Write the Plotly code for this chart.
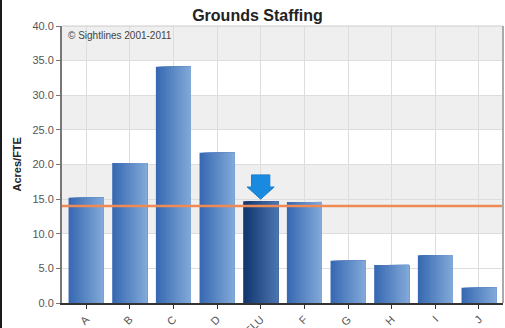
import plotly.graph_objects as go

# Grounds staffing, acres per FTE, by institution
categories = ["A", "B", "C", "D", "ELU", "F", "G", "H", "I", "J"]
acres_per_fte = [15.2, 20.2, 34.1, 21.7, 14.7, 14.6, 6.1, 5.5, 6.9, 2.2]
peer_average = 14.0
highlight = "ELU"
y_ticks = [0, 5, 10, 15, 20, 25, 30, 35, 40]
shaded_bands = [(10, 20), (25, 30), (35, 40)]

W, H = 505, 328
ML, MR, MT, MB = 62, 2, 26, 25
PW, PH = W - ML - MR, H - MT - MB


def lerp(c1, c2, t):
    return "#%02x%02x%02x" % tuple(round(a + (b - a) * t) for a, b in zip(c1, c2))


base_left, base_right = (0x38, 0x69, 0xb2), (0x80, 0xa8, 0xd8)
hi_left, hi_right = (0x12, 0x36, 0x6e), (0x4a, 0x74, 0xb0)

fig = go.Figure()

# horizontal colour gradient across each bar: each layer starts a little further
# right and runs to the bar's right edge, so later layers cover earlier ones
n_slices = 16
bar_w = 0.8
step = bar_w / n_slices
for k in range(n_slices):
    t = k / (n_slices - 1)
    colors = [lerp(hi_left, hi_right, t) if c == highlight else lerp(base_left, base_right, t)
              for c in categories]
    fig.add_trace(go.Bar(
        x=categories, y=acres_per_fte,
        width=bar_w - k * step,
        offset=-bar_w / 2 + k * step,
        marker=dict(color=colors, line=dict(width=0)),
        showlegend=False, hoverinfo="skip",
    ))

# alternating background bands
for y0, y1 in shaded_bands:
    fig.add_shape(type="rect", xref="paper", yref="y", x0=0, x1=1, y0=y0, y1=y1,
                  fillcolor="#efefef", line=dict(width=0), layer="below")

# peer average line
fig.add_shape(type="line", xref="paper", yref="y", x0=0, x1=1,
              y0=peer_average, y1=peer_average,
              line=dict(color="#ef8a55", width=2.5), layer="above")

# arrow marking the highlighted institution
hi_idx = categories.index(highlight)
hi_val = acres_per_fte[hi_idx]
tip = hi_val + 0.3
head = tip + 1.75
top = head + 1.75
sw, hw = 0.21, 0.31
arrow_path = (f"M {hi_idx - sw} {top} L {hi_idx + sw} {top} L {hi_idx + sw} {head} "
              f"L {hi_idx + hw} {head} L {hi_idx} {tip} L {hi_idx - hw} {head} "
              f"L {hi_idx - sw} {head} Z")
fig.add_shape(type="path", xref="x", yref="y", path=arrow_path,
              fillcolor="#1a8ae0", line=dict(color="#1a7fd0", width=1), layer="above")

# plot frame: top and right edges
fig.add_shape(type="line", xref="paper", yref="paper", x0=0, x1=1, y0=1, y1=1,
              line=dict(color="#cccccc", width=1))
fig.add_shape(type="line", xref="paper", yref="paper", x0=1, x1=1, y0=0, y1=1,
              line=dict(color="#aaaaaa", width=2))
# dark page edge on the left
fig.add_shape(type="line", xref="paper", yref="paper",
              x0=(1 - ML) / PW, x1=(1 - ML) / PW, y0=-MB / PH, y1=(PH + MT) / PH,
              line=dict(color="#1a1a1a", width=2))

font_family = "Arial, Liberation Sans, sans-serif"

fig.add_annotation(text="© Sightlines 2001-2011", xref="paper", yref="paper",
                   x=4 / PW, y=(PH - 10) / PH, xanchor="left", yanchor="middle",
                   showarrow=False, font=dict(size=10, color="#444444", family=font_family))
fig.add_annotation(text="Acres/FTE", xref="paper", yref="paper",
                   x=(16 - ML) / PW, y=0.5, textangle=-90, xanchor="center", yanchor="middle",
                   showarrow=False, font=dict(size=11, color="#222222", family=font_family,
                                              weight="bold"))

fig.update_layout(
    width=W, height=H,
    margin=dict(l=ML, r=MR, t=MT, b=MB),
    paper_bgcolor="white", plot_bgcolor="white",
    barmode="overlay",
    title=dict(text="Grounds Staffing", x=257.5 / W, xref="container", xanchor="center",
               y=1 - 15 / H, yref="container", yanchor="middle",
               font=dict(size=16, color="#222222", family=font_family, weight="bold")),
    font=dict(family=font_family),
)
fig.update_xaxes(
    type="category", range=[-0.55, 9.55], automargin=False,
    showgrid=True, gridcolor="#dddddd", gridwidth=1,
    showline=True, linecolor="#333333", linewidth=1.5,
    ticks="outside", ticklen=4, tickcolor="#333333",
    tickangle=-45, tickfont=dict(size=11, color="#555555"),
)
fig.update_yaxes(
    range=[0, 40], tickvals=y_ticks, ticktext=[f"{v:.1f}" for v in y_ticks],
    automargin=False,
    showgrid=True, gridcolor="#dddddd", gridwidth=1, zeroline=False,
    showline=True, linecolor="#777777", linewidth=2,
    ticks="outside", ticklen=4, tickcolor="#777777",
    tickfont=dict(size=11, color="#555555"),
)

fig.write_html("out.html")
